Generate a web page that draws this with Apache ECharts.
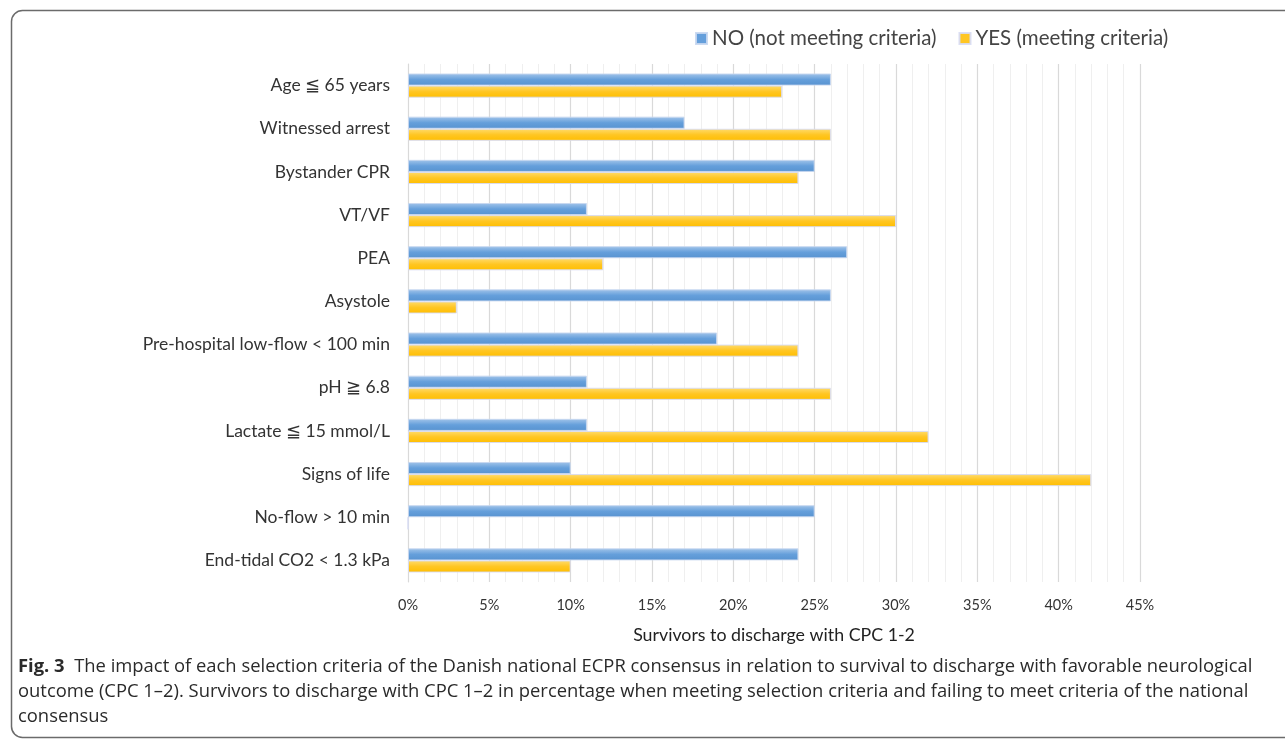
<!DOCTYPE html>
<html><head><meta charset="utf-8">
<script src="https://cdn.jsdelivr.net/npm/echarts@6/dist/echarts.min.js"></script>
<style>html,body{margin:0;padding:0;background:#fff}#c{width:1285px;height:739px}</style>
</head><body><div id="c"></div>
<script>
const categories = ["Age ≦ 65 years","Witnessed arrest","Bystander CPR","VT/VF","PEA","Asystole","Pre-hospital low-flow < 100 min","pH ≧ 6.8","Lactate ≦ 15 mmol/L","Signs of life","No-flow > 10 min","End-tidal CO2 < 1.3 kPa"];
const noValues  = [26,17,25,11,27,26,19,11,11,10,25,24];
const yesValues = [23,26,24,30,12,3,24,26,32,42,0,10];
const seriesNames = ["NO (not meeting criteria)","YES (meeting criteria)"];
const axisTitle = "Survivors to discharge with CPC 1-2";

const chart = echarts.init(document.getElementById('c'));
const blue = {type:'linear',x:0,y:0,x2:0,y2:1,colorStops:[{offset:0,color:'#a3c5ea'},{offset:0.5,color:'#659fdb'},{offset:1,color:'#5893d0'}]};
const yellow = {type:'linear',x:0,y:0,x2:0,y2:1,colorStops:[{offset:0,color:'#ffdc6e'},{offset:0.5,color:'#ffc623'},{offset:1,color:'#ffbe00'}]};
chart.setOption({
  animation:false,
  backgroundColor:'#fff',
  textStyle:{fontFamily:'Lato'},
  legend:{
    top:23, left:690, itemWidth:11, itemHeight:11, itemGap:22,
    textStyle:{fontSize:20.5,color:'#444',fontFamily:'Lato'},
    data:[{name:seriesNames[0],icon:'rect',itemStyle:{color:'#659fdb'}},{name:seriesNames[1],icon:'rect',itemStyle:{color:'#ffc623'}}]
  },
  grid:{left:408,right:145,top:64,bottom:157,containLabel:false},
  xAxis:{
    type:'value',min:0,max:45,interval:5,
    axisLabel:{formatter:'{value}%',fontSize:14.5,color:'#333',margin:16},
    axisLine:{show:false},axisTick:{show:false},
    splitLine:{show:true,lineStyle:{color:'#d9d9d9',width:1.2}},
    minorTick:{show:false,splitNumber:5},
    minorSplitLine:{show:true,lineStyle:{color:'#efefef',width:1}},
    name:axisTitle,nameLocation:'middle',nameGap:44,
    nameTextStyle:{fontSize:17.8,color:'#222'}
  },
  yAxis:{
    type:'category',data:categories,inverse:true,
    axisLabel:{fontSize:17.5,color:'#333',margin:18},
    axisLine:{show:true,lineStyle:{color:'#d9d9d9'}},
    axisTick:{show:false}
  },
  series:[
    {name:seriesNames[0],type:'bar',data:noValues,barGap:'0%',barCategoryGap:'44%',
     itemStyle:{color:blue,borderColor:'rgba(200,215,240,0.9)',borderWidth:1}},
    {name:seriesNames[1],type:'bar',data:yesValues,barGap:'0%',barCategoryGap:'44%',
     itemStyle:{color:yellow,borderColor:'rgba(215,220,245,0.9)',borderWidth:1}}
  ],
  graphic:[
    {type:'rect',left:9,top:8,shape:{x:0,y:0,width:1320,height:727,r:11},
     style:{fill:'none',stroke:'#6b6b6b',lineWidth:1.5},silent:true,z:100},
    {type:'text',left:18,top:654,silent:true,
     style:{
       text:'{b|Fig. 3}  The impact of each selection criteria of the Danish national ECPR consensus in relation to survival to discharge with favorable neurological\noutcome (CPC 1–2). Survivors to discharge with CPC 1–2 in percentage when meeting selection criteria and failing to meet criteria of the national\nconsensus',
       fontSize:18.4, fontFamily:'Open Sans', fill:'#2a2a2a', lineHeight:25,
       rich:{b:{fontWeight:'bold',fontSize:18.4,fontFamily:'Open Sans',fill:'#2a2a2a',lineHeight:25}}
     }}
  ]
});
</script></body></html>
